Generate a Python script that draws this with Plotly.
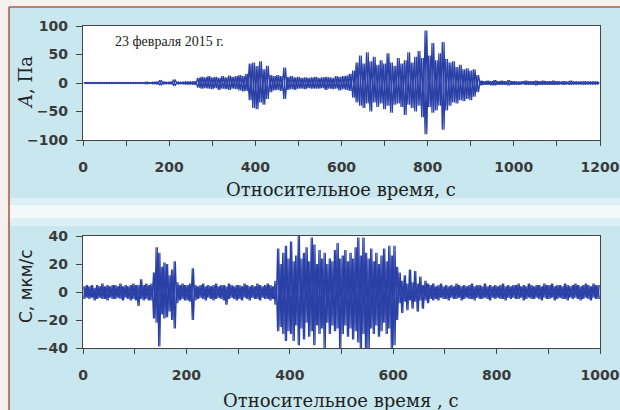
import plotly.graph_objects as go

# ---------------- data ----------------
# Infrasound pressure A (Pa): envelope per 8-s bin, bin centres 4..1196 s
a_hi = [
    1, 1, 0.8, 1, 1, 0.8, 1, 1, 1, 0.8, 1, 1, 0.8, 1, 1,
    1, 1, 1, 1.5, 1, 1.5, 2, 5, 2, 1.5, 2, 6, 2, 1.5, 2,
    2, 2, 3, 9, 11, 10, 12, 10, 11, 9, 12, 10, 13, 11, 12,
    14, 12, 16, 34, 36, 30, 38, 24, 30, 14, 12, 14, 12, 27, 11,
    12, 10, 11, 9, 10, 9, 10, 11, 9, 10, 11, 10, 9, 12, 11,
    12, 13, 16, 22, 36, 48, 34, 54, 38, 46, 32, 40, 34, 52, 36,
    30, 44, 34, 40, 54, 36, 46, 56, 44, 92, 48, 70, 40, 52, 72,
    42, 36, 38, 28, 32, 24, 26, 22, 24, 14, 4, 3, 4, 3, 5,
    3, 4, 3, 5, 3, 3, 2, 3, 4, 3, 3, 4, 3, 4, 3,
    3, 4, 3, 2, 3, 2, 4, 2, 2, 2, 3, 2, 2, 2, 2,
]
a_lo = [
    -1, -0.8, -1, -1, -0.8, -1, -1, -0.8, -1, -1, -1, -0.8, -1, -1, -0.8,
    -1, -1, -1, -1.5, -1, -1.5, -2, -4, -2, -1.5, -2, -5, -2, -1.5, -2,
    -2, -2, -3, -8, -10, -9, -10, -11, -9, -12, -10, -11, -12, -10, -11,
    -13, -15, -14, -30, -44, -46, -34, -38, -28, -16, -13, -12, -14, -28, -12,
    -11, -12, -10, -10, -11, -9, -10, -10, -10, -9, -12, -10, -11, -10, -13,
    -11, -12, -14, -26, -34, -40, -44, -36, -50, -34, -42, -36, -46, -40, -52,
    -38, -36, -42, -56, -38, -44, -50, -40, -60, -90, -42, -52, -48, -40, -82,
    -48, -40, -34, -36, -30, -32, -28, -30, -24, -16, -4, -3, -3, -4, -4,
    -3, -3, -3, -4, -3, -3, -3, -2, -3, -3, -3, -4, -3, -3, -3,
    -3, -3, -3, -2, -3, -2, -3, -2, -2, -2, -3, -2, -2, -2, -2,
]
a_bin = 8

# Seismic velocity C (um/s): envelope per 5-s bin, bin centres 2.5..997.5 s
c_hi = [
    4, 5, 4, 5, 3, 5, 4, 6, 4, 5, 4, 5, 5, 4, 6, 4, 5, 4, 5, 6,
    5, 5, 9, 5, 6, 5, 6, 14, 32, 28, 18, 21, 20, 12, 16, 22, 7, 5, 6, 5,
    5, 6, 17, 5, 4, 5, 6, 4, 5, 4, 5, 6, 4, 5, 5, 4, 6, 5, 4, 5,
    5, 4, 6, 5, 4, 5, 4, 6, 5, 4, 5, 6, 5, 4, 8, 31, 20, 28, 33, 24,
    36, 22, 26, 40, 24, 28, 32, 22, 39, 34, 20, 30, 24, 28, 20, 24, 22, 30, 35, 24,
    26, 30, 22, 28, 24, 32, 39, 26, 39, 28, 24, 31, 22, 28, 20, 26, 31, 22, 33, 26,
    33, 18, 14, 8, 12, 6, 16, 7, 15, 6, 11, 5, 8, 6, 5, 6, 4, 5, 6, 4,
    5, 4, 5, 4, 6, 5, 4, 5, 4, 5, 6, 4, 5, 5, 4, 6, 4, 5, 4, 5,
    4, 5, 6, 4, 5, 4, 5, 5, 6, 4, 5, 4, 6, 5, 4, 5, 5, 4, 6, 5,
    5, 6, 4, 5, 5, 4, 6, 5, 4, 5, 6, 5, 4, 5, 6, 5, 4, 6, 5, 5,
]
c_lo = [
    -5, -4, -5, -4, -6, -5, -4, -5, -5, -6, -4, -5, -5, -4, -5, -6, -4, -5, -6, -5,
    -6, -10, -5, -6, -5, -6, -6, -19, -22, -39, -16, -19, -18, -14, -20, -26, -8, -6, -5, -6,
    -6, -7, -20, -6, -5, -4, -5, -6, -4, -5, -6, -5, -4, -5, -6, -9, -5, -4, -5, -6,
    -5, -6, -4, -5, -6, -4, -5, -5, -6, -4, -5, -5, -6, -5, -9, -28, -25, -30, -35, -28,
    -30, -35, -24, -38, -26, -34, -22, -32, -28, -38, -24, -30, -26, -40, -22, -30, -24, -28, -26, -40,
    -30, -24, -32, -26, -34, -28, -36, -40, -30, -40, -40, -26, -30, -24, -32, -28, -22, -30, -26, -40,
    -38, -20, -8, -15, -7, -13, -6, -12, -7, -14, -6, -12, -6, -8, -5, -6, -5, -6, -4, -5,
    -5, -6, -4, -5, -5, -4, -6, -5, -4, -5, -5, -6, -4, -5, -5, -4, -5, -6, -4, -5,
    -4, -5, -5, -6, -4, -5, -4, -5, -5, -4, -6, -5, -4, -5, -5, -4, -5, -6, -4, -5,
    -5, -4, -6, -5, -4, -5, -5, -6, -4, -5, -4, -5, -6, -5, -4, -5, -6, -4, -5, -5,
]
c_bin = 5

a_xticks = [0, 200, 400, 600, 800, 1000, 1200]
a_yticks = [-100, -50, 0, 50, 100]
c_xticks = [0, 200, 400, 600, 800, 1000]
c_yticks = [-40, -20, 0, 20, 40]

date_label = "23 февраля 2015 г."
x_title_a = "Относительное время, с"
x_title_c = "Относительное время , с"
y_title_a = "<i>A</i>, Па"
y_title_c = "С, мкм/с"

# ---------------- helpers ----------------
W, H = 620, 410


def fx(px):
    return px / W


def fy(py):
    return 1 - py / H


def swings(hi, lo, width, rising=False):
    """Trace each bin as a swing between its maximum and its minimum."""
    xs, ys = [], []
    for i, (h, l) in enumerate(zip(hi, lo)):
        c = (i + 0.5) * width
        xs += [c - width / 4, c + width / 4]
        ys += [l, h] if rising else [h, l]
    return xs, ys


wave_color = "#2a40a6"
ax_color = "#444444"
tick_font = dict(family="DejaVu Sans", size=14, color="#3a3a3a", weight="bold")

fig = go.Figure()
for rising in (False, True):
    xa, ya = swings(a_hi, a_lo, a_bin, rising)
    xc, yc = swings(c_hi, c_lo, c_bin, rising)
    fig.add_trace(go.Scatter(x=xa, y=ya, mode="lines", xaxis="x", yaxis="y",
                             line=dict(color=wave_color, width=1.2, simplify=False),
                             hoverinfo="skip"))
    fig.add_trace(go.Scatter(x=xc, y=yc, mode="lines", xaxis="x2", yaxis="y2",
                             line=dict(color=wave_color, width=1.1, simplify=False),
                             hoverinfo="skip"))

common_x = dict(showline=True, mirror=True, linecolor=ax_color, linewidth=1.3,
                showgrid=False, zeroline=False, ticks="outside", ticklen=5,
                tickcolor=ax_color, tickfont=tick_font, automargin=False,
                ticklabelstandoff=9,
                minor=dict(dtick=100, ticks="outside", ticklen=5, tickcolor=ax_color))
common_y = dict(showline=True, mirror=True, linecolor=ax_color, linewidth=1.3,
                showgrid=False, zeroline=False, ticks="outside", ticklen=6,
                tickcolor=ax_color, tickfont=tick_font, automargin=False,
                ticklabelstandoff=5)

fig.update_layout(
    width=W, height=H, margin=dict(l=0, r=0, t=0, b=0),
    template="none", showlegend=False,
    paper_bgcolor="#c9e7ef", plot_bgcolor="#ffffff",
    xaxis=dict(domain=[fx(83), fx(600)], anchor="y", range=[0, 1200],
               tickvals=a_xticks, **common_x),
    yaxis=dict(domain=[fy(140), fy(26)], anchor="x", range=[-100, 100],
               tickvals=a_yticks, **common_y),
    xaxis2=dict(domain=[fx(83), fx(600)], anchor="y2", range=[0, 1000],
                tickvals=c_xticks, **common_x),
    yaxis2=dict(domain=[fy(348), fy(236)], anchor="x2", range=[-40, 40],
                tickvals=c_yticks, **common_y),
)

# page decoration: light top/left margins with a brownish frame line, pale band between panels
frame = "#b35a45"
pale = "#f4f1ef"
fig.add_shape(type="rect", xref="paper", yref="paper", x0=0, x1=1, y0=fy(7), y1=1,
              fillcolor=pale, line_width=0, layer="below")
fig.add_shape(type="rect", xref="paper", yref="paper", x0=0, x1=fx(9), y0=0, y1=1,
              fillcolor=pale, line_width=0, layer="below")
fig.add_shape(type="rect", xref="paper", yref="paper", x0=fx(9), x1=1, y0=fy(226), y1=fy(198),
              fillcolor="#dcf0f5", line_width=0, layer="below")
fig.add_shape(type="rect", xref="paper", yref="paper", x0=fx(9), x1=1, y0=fy(218), y1=fy(205),
              fillcolor="#f3f9fa", line_width=0, layer="below")
fig.add_shape(type="line", xref="paper", yref="paper", x0=fx(9), x1=1, y0=fy(7), y1=fy(7),
              line=dict(color=frame, width=1.6), layer="below")
fig.add_shape(type="line", xref="paper", yref="paper", x0=fx(9), x1=fx(9), y0=0, y1=fy(7),
              line=dict(color=frame, width=1.6), layer="below")

serif = "DejaVu Serif"
fig.add_annotation(text=date_label, xref="paper", yref="paper", x=fx(113), y=fy(42),
                   xanchor="left", yanchor="middle", showarrow=False,
                   font=dict(family="Liberation Serif", size=14, color="#222222"))
fig.add_annotation(text=x_title_a, xref="paper", yref="paper", x=fx(341), y=fy(189),
                   xanchor="center", yanchor="middle", showarrow=False,
                   font=dict(family=serif, size=18, color="#1e1e1e"))
fig.add_annotation(text=x_title_c, xref="paper", yref="paper", x=fx(341), y=fy(400),
                   xanchor="center", yanchor="middle", showarrow=False,
                   font=dict(family=serif, size=18, color="#1e1e1e"))
fig.add_annotation(text=y_title_a, xref="paper", yref="paper", x=fx(26), y=fy(83),
                   xanchor="center", yanchor="middle", showarrow=False, textangle=-90,
                   font=dict(family=serif, size=18, color="#222222"))
fig.add_annotation(text=y_title_c, xref="paper", yref="paper", x=fx(26), y=fy(286),
                   xanchor="center", yanchor="middle", showarrow=False, textangle=-90,
                   font=dict(family="DejaVu Sans", size=17, color="#222222"))

fig.write_html("out.html")
